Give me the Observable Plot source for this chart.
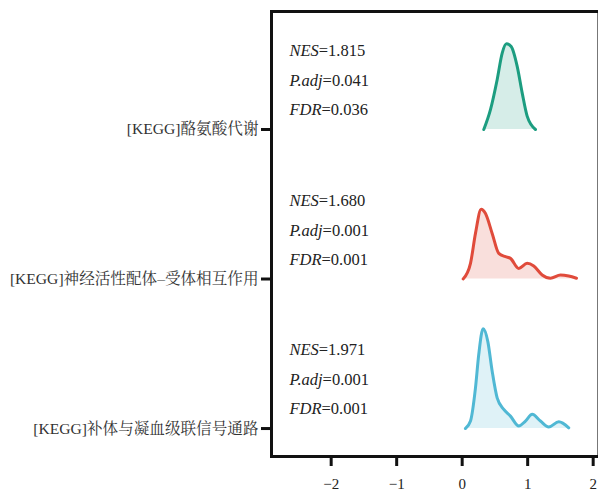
<!DOCTYPE html>
<html>
<head>
<meta charset="utf-8">
<script src="https://cdn.jsdelivr.net/npm/d3@7"></script>
<script src="https://cdn.jsdelivr.net/npm/@observablehq/plot@0.6"></script>
<style>
  html, body { margin: 0; padding: 0; background: #fff; }
  svg text { font-family: "Liberation Serif", "Noto Serif CJK SC", "Noto Sans CJK SC", serif; }
</style>
</head>
<body>
<div id="chart"></div>
<script>
// ---- data ----
const categories = ["[KEGG]酪氨酸代谢", "[KEGG]神经活性配体–受体相互作用", "[KEGG]补体与凝血级联信号通路"];
const nesValues = ["1.815", "1.680", "1.971"];
const padjValues = ["0.041", "0.001", "0.001"];
const fdrValues = ["0.036", "0.001", "0.001"];
const colors = ["#1c9d80", "#e04b3b", "#50b8d4"];
const xTicks = [-2, -1, 0, 1, 2];

// density curves (x = enrichment value, d = relative density height in row units)
const tyrX = [0.33, 0.432, 0.534, 0.611, 0.676, 0.748, 0.84, 0.916, 0.992, 1.119];
const tyrD = [0, 0.133, 0.333, 0.511, 0.573, 0.555, 0.422, 0.245, 0.089, 0];
const neuroX = [0.015, 0.127, 0.203, 0.29, 0.356, 0.458, 0.559, 0.661, 0.737, 0.864, 0.992, 1.093, 1.221, 1.348, 1.501, 1.627, 1.745];
const neuroD = [0, 0.105, 0.305, 0.467, 0.438, 0.305, 0.171, 0.149, 0.138, 0.071, 0.105, 0.087, 0.027, 0.005, 0.027, 0.02, 0.005];
const compX = [0.05, 0.127, 0.203, 0.253, 0.32, 0.391, 0.458, 0.534, 0.635, 0.737, 0.864, 0.966, 1.069, 1.195, 1.322, 1.475, 1.627];
const compD = [0, 0.05, 0.272, 0.495, 0.667, 0.583, 0.383, 0.205, 0.128, 0.083, 0.017, 0.05, 0.095, 0.05, 0.01, 0.045, 0.005];

// ---- build tables ----
const curves = [[tyrX, tyrD], [neuroX, neuroD], [compX, compD]];
const n = categories.length;
const rowBase = i => n - 1 - i; // top row first
const dens = [];
curves.forEach(([xs, ds], i) => {
  xs.forEach((x, j) => dens.push({cat: i, x, base: rowBase(i), y: rowBase(i) + ds[j]}));
});
const lineOffsets = [0.525, 0.325, 0.13];
const labels = [];
categories.forEach((c, i) => {
  labels.push({cat: i, k: "NES", v: nesValues[i], line: 0});
  labels.push({cat: i, k: "P.adj", v: padjValues[i], line: 1});
  labels.push({cat: i, k: "FDR", v: fdrValues[i], line: 2});
});
labels.forEach(d => { d.y = rowBase(d.cat) + lineOffsets[d.line]; d.text = d.k + "=" + d.v; });

const xDomain = [-2.911, 2.066];
const yDomain = [-0.187, 2.789];
const labelX = -2.637;

const fontFamily = '"Liberation Serif", "Noto Serif CJK SC", "Noto Sans CJK SC", serif';

const plot = Plot.plot({
  width: 598,
  height: 493,
  marginLeft: 271,
  marginRight: 1,
  marginTop: 11,
  marginBottom: 37,
  style: {fontFamily, fontSize: "15px", color: "#222", background: "#fff"},
  x: {domain: xDomain},
  y: {domain: yDomain},
  marks: [
    Plot.frame({stroke: "#777", strokeWidth: 1}),
    Plot.areaY(dens, {x: "x", y1: "base", y2: "y", z: "cat", fill: d => colors[d.cat], fillOpacity: 0.18, curve: "monotone-x"}),
    Plot.lineY(dens, {x: "x", y: "y", z: "cat", stroke: d => colors[d.cat], strokeWidth: 3, curve: "monotone-x"}),
    Plot.text(labels, {x: () => labelX, y: "y", text: "text", textAnchor: "start", fontSize: 16.5, fill: "#222"}),
    Plot.frame({anchor: "left", stroke: "#111", strokeWidth: 3}),
    Plot.frame({anchor: "top", stroke: "#111", strokeWidth: 3}),
    Plot.frame({anchor: "bottom", stroke: "#111", strokeWidth: 3}),
    Plot.axisX({ticks: xTicks, tickSize: 10, tickPadding: 12, strokeWidth: 3, stroke: "#111", fontSize: 15, label: null, tickFormat: d => d < 0 ? "−" + Math.abs(d) : String(d)}),
    Plot.axisY({ticks: d3.range(n), tickSize: 10, tickPadding: 3, strokeWidth: 3, stroke: "#111", fontSize: 15.6, fill: "#333", label: null, tickFormat: v => categories[n - 1 - v]})
  ]
});

// italicize the statistic names
d3.select(plot).selectAll("text").each(function() {
  const t = this.textContent;
  const m = /^(NES|P\.adj|FDR)=(.*)$/.exec(t);
  if (m && this.children.length === 0) {
    const sel = d3.select(this);
    sel.text(null);
    sel.append("tspan").attr("font-style", "italic").text(m[1]);
    sel.append("tspan").text("=" + m[2]);
  }
});

document.getElementById("chart").appendChild(plot);
</script>
</body>
</html>
